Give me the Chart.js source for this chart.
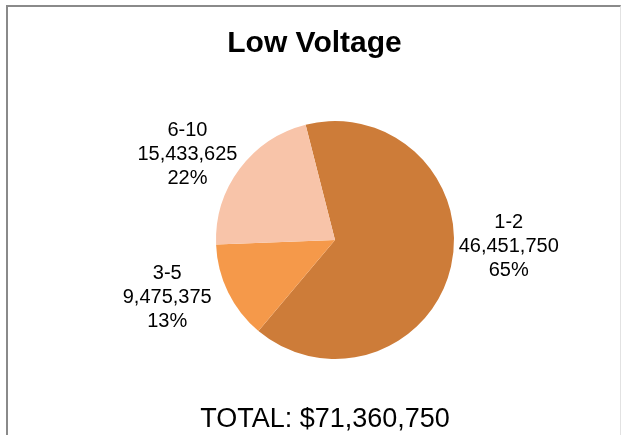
<!DOCTYPE html>
<html>
<head>
<meta charset="utf-8">
<script src="https://cdn.jsdelivr.net/npm/chart.js@4.4.1/dist/chart.umd.min.js"></script>
<style>
  html, body { margin: 0; padding: 0; background: #fff; overflow: hidden; }
  #wrap { position: relative; width: 622px; height: 435px; }
  #frame { position: absolute; left: 6px; top: 5px; width: 612px; height: 440px;
           border-left: 2px solid #8a8a8a; border-top: 2px solid #8a8a8a; border-right: 1px solid #e2e2e2; pointer-events: none; }
  canvas { position: absolute; left: 0; top: 0; }
</style>
</head>
<body>
<div id="wrap">
  <canvas id="c" width="622" height="435"></canvas>
  <div id="frame"></div>
</div>
<script>
const chartTitle = 'Low Voltage';
const categories = ['1-2', '3-5', '6-10'];
const values = [46451750, 9475375, 15433625];
const total = values.reduce((a, b) => a + b, 0);

const fmt = n => n.toLocaleString('en-US');

const labelPlugin = {
  id: 'pieLabels',
  afterDatasetsDraw(chart, args, opts) {
    const ctx = chart.ctx;
    const meta = chart.getDatasetMeta(0);
    ctx.save();
    ctx.fillStyle = '#000';
    ctx.font = '20px "Liberation Sans", Arial, sans-serif';
    ctx.textAlign = 'center';
    ctx.textBaseline = 'middle';
    meta.data.forEach((arc, i) => {
      const R = arc.outerRadius;
      const off = opts.offsets[i];
      const cx = arc.x + off[0] * R;
      const cy = arc.y + off[1] * R;
      const lines = [
        categories[i],
        fmt(values[i]),
        Math.round(values[i] / total * 100) + '%'
      ];
      lines.forEach((t, k) => ctx.fillText(t, cx, cy + (k - 1) * opts.lineHeight));
    });
    // title
    ctx.textBaseline = 'alphabetic';
    ctx.font = 'bold 30px "Liberation Sans", Arial, sans-serif';
    ctx.fillText(chartTitle, 314.5, 51.5);
    // total
    ctx.font = '27px "Liberation Sans", Arial, sans-serif';
    ctx.fillText('TOTAL: $' + fmt(total), 325, 427);
    ctx.restore();
  }
};

new Chart(document.getElementById('c'), {
  type: 'pie',
  data: {
    labels: categories,
    datasets: [{
      data: values,
      backgroundColor: ['#CD7C39', '#F5994A', '#F8C4A9'],
      borderWidth: 0
    }]
  },
  options: {
    responsive: false,
    animation: false,
    devicePixelRatio: 1,
    rotation: -14.3,
    layout: { padding: { left: 216, right: 168, top: 121, bottom: 76 } },
    plugins: {
      legend: { display: false },
      title: { display: false },
      tooltip: { enabled: false },
      pieLabels: {
        lineHeight: 24,
        offsets: [[1.46, 0.055], [-1.41, 0.485], [-1.24, -0.715]]
      }
    }
  },
  plugins: [labelPlugin]
});
</script>
</body>
</html>
